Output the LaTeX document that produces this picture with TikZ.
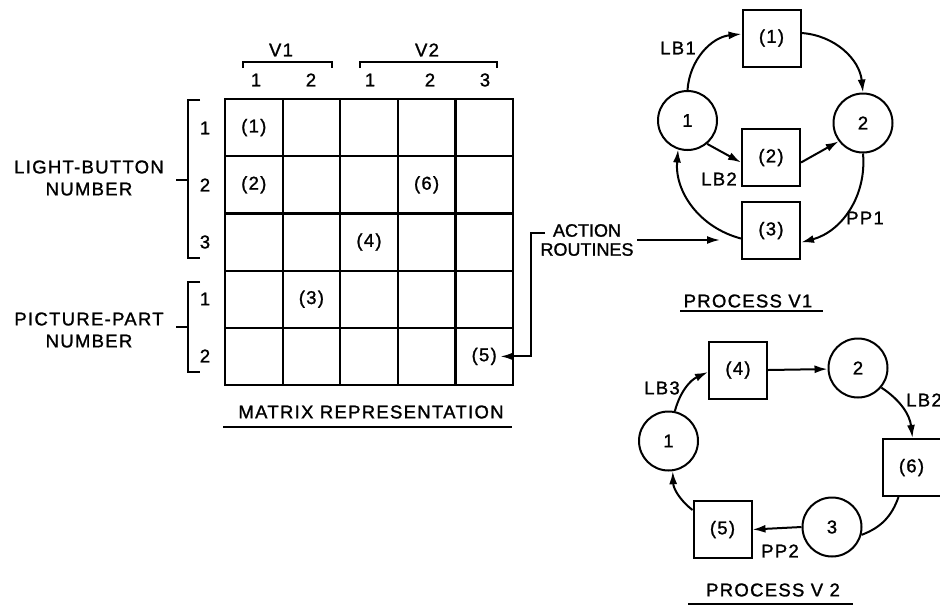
\documentclass[tikz,border=0pt]{standalone}
\usepackage{fontspec}
\setmainfont{Liberation Sans}[LetterSpace=7,FakeBold=1.3]
\newfontfamily\actfont{Liberation Sans}[FakeBold=1.3]
\usetikzlibrary{arrows.meta}

\tikzset{
  proc/.style={draw, line width=2pt, minimum width=58pt, minimum height=57pt, inner sep=0pt},
  state/.style={draw, circle, line width=2pt, minimum size=59pt, inner sep=0pt},
  flow/.style={line width=2pt, -{Latex[length=13pt,width=8pt]}},
  conn/.style={line width=2pt},
}

\begin{document}
\begin{tikzpicture}[x=1pt,y=-1pt,font=\fontsize{18.5}{22}\selectfont]
    \useasboundingbox (0,0) rectangle (940,606);
    % Matrix grid
    \draw[line width=2.2pt] (225,99) rectangle (513,385);
    \foreach \i in {1,...,4} {
        \draw[line width=2.2pt] (225+\i*57.6,99) -- (225+\i*57.6,385);
        \draw[line width=2.2pt] (225,99+\i*57.2) -- (513,99+\i*57.2);
    }
    % Column headers
    \node (v1) at (281,50) {V1};
    \draw[conn] (243,68) -- (243,62) -- (332,62) -- (332,68);
    \node (v2) at (427,50) {V2};
    \draw[conn] (360,68) -- (360,62) -- (497,62) -- (497,68);
    \foreach \x/\t in {256/1,311/2,370/1,430/2,485/3}
        \node at (\x,80) {\t};
    % Row headers
    \foreach \y/\t in {128/1,185/2,242/3,299/1,356/2}
        \node at (205,\y) {\t};
    \draw[conn] (200,100) -- (188,100) -- (188,258) -- (200,258);
    \draw[conn] (176,180) -- (188,180);
    \node[align=center] (lbn) at (89,178) {LIGHT-BUTTON\\NUMBER};
    \draw[conn] (200,282) -- (188,282) -- (188,372) -- (200,372);
    \draw[conn] (176,327) -- (188,327);
    \node[align=center] (ppn) at (89,330) {PICTURE-PART\\NUMBER};
    % Matrix entries
    \node (m11) at (253.8,127.6) {(1)};
    \node (m21) at (253.8,184.8) {(2)};
    \node (m24) at (426.6,184.8) {(6)};
    \node (m33) at (369,242) {(4)};
    \node (m42) at (311.4,299.2) {(3)};
    \node (m55) at (484.2,356.4) {(5)};
    \node (mt) at (371,412) {MATRIX REPRESENTATION};
    \draw[conn] (223,427) -- (512,427);
    % Action routines
    \node[align=center,font=\actfont\fontsize{18}{19}\selectfont] (act) at (587,240) {ACTION\\ROUTINES};
    \coordinate (atop) at (545,233);
    \coordinate (abr) at (531,233);
    \coordinate (aend) at (720,240);
    \draw[flow] (atop) -- (abr) |- (m55.east);
    \draw[flow] (act.east) -- (aend);
    % Process V1
    \node[state] (p1s1) at (687.5,120.5) {1};
    \node[state] (p1s2) at (863,123) {2};
    \node[proc] (p1a1) at (771.5,38) {(1)};
    \node[proc] (p1a2) at (771,157.5) {(2)};
    \node[proc] (p1a3) at (771,230.5) {(3)};
    \draw[flow] (p1s1.north) to[bend left=40] ([yshift=4pt]p1a1.west);
    \draw[flow] ([yshift=5pt]p1a1.east) to[bend left=40] (p1s2.north);
    \draw[flow] (p1s1.-50) -- ([yshift=-5pt]p1a2.west);
    \draw[flow] ([yshift=-5pt]p1a2.east) -- (p1s2.217);
    \draw[flow] (p1s2.south) to[bend left=40] ([yshift=-12pt]p1a3.east);
    \draw[flow] ([yshift=-8pt]p1a3.west) to[bend left=40] (p1s1.252);
    \node (lb1) at (678,48) {LB1};
    \node (lb2) at (719,179) {LB2};
    \node (pp1) at (865,218) {PP1};
    \node (t1) at (748,301) {PROCESS V1};
    \draw[conn] (680,311) -- (823,311);
    % Process V2
    \node[state] (p2s1) at (668.5,441) {1};
    \node[state] (p2s2) at (858,368) {2};
    \node[state] (p2s3) at (832,527) {3};
    \node[proc] (p2a4) at (738,370) {(4)};
    \node[proc] (p2a6) at (911.5,467.5) {(6)};
    \node[proc] (p2a5) at (722.5,529.5) {(5)};
    \draw[flow] (p2s1.78) to[bend left=25] ([yshift=-2pt]p2a4.west);
    \draw[flow] (p2a4.east) -- (p2s2.182);
    \draw[flow] (p2s2.-40) to[bend left=25] ([xshift=1pt]p2a6.north);
    \draw[conn] ([xshift=-13pt]p2a6.south) to[bend left=25] (p2s3.-15);
    \draw[flow] (p2s3.west) -- (p2a5.east);
    \draw[flow] ([yshift=-10pt]p2a5.north west) to[bend left=25] (p2s1.-82);
    \node (lb3) at (662,388) {LB3};
    \node (lb4) at (924,400) {LB2};
    \node (pp2) at (780,551) {PP2};
    \node (t2) at (773,590) {PROCESS V 2};
    \draw[conn] (688,604) -- (853,604);
\end{tikzpicture}
\end{document}
